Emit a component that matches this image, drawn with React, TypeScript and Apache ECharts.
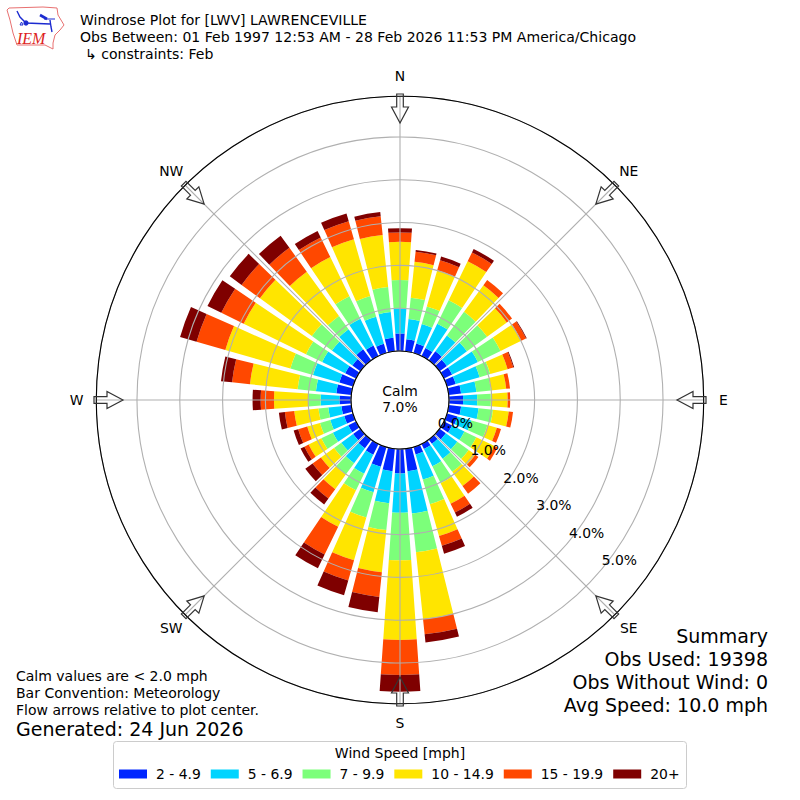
import React, { useEffect, useRef } from "react";
import * as echarts from "echarts";

const directions = Array.from({ length: 36 }, (_, i) => String(i * 10));
const compassLabels = ["N", "NE", "E", "SE", "S", "SW", "W", "NW"];
const speedBins = ["2 - 4.9", "5 - 6.9", "7 - 9.9", "10 - 14.9", "15 - 19.9", "20+"];
const binColors = ["#0026ff", "#00d4ff", "#7cff7a", "#ffe500", "#ff4800", "#7f0000"];

const bin1 = [.41,.28,.23,.21,.26,.21,.21,.21,.29,.33,.29,.25,.21,.18,.12,.13,.18,.53,.57,.53,.48,.28,.25,.21,.2,.21,.23,.27,.35,.33,.28,.23,.32,.27,.22,.32];
const bin2 = [.59,.48,.47,.63,.46,.58,.67,.58,.36,.33,.41,.34,.32,.33,.43,.45,.61,.99,.92,.75,.62,.49,.43,.34,.4,.34,.31,.44,.48,.64,.6,.59,.58,.7,.66,.6];
const bin3 = [.66,.5,.43,.61,.68,.58,.59,.26,.34,.32,.34,.39,.31,.33,.38,.44,.6,.91,1.11,.63,.61,.43,.33,.21,.3,.25,.23,.29,.43,.55,.42,.58,.38,.58,.5,.59];
const bin4 = [.89,.84,.88,1.01,.77,.57,.54,.42,.36,.39,.37,.23,.47,.19,.41,.53,.77,1.57,1.86,.99,1.04,.95,.42,.38,.33,.31,.57,.8,1.12,1.58,1.62,1.5,1.28,1.02,1.38,1.22];
const bin5 = [.22,.24,.24,.23,.15,.15,.12,.14,.09,.06,.1,.1,.08,.09,.22,.23,.24,.36,.82,.58,.49,.72,.27,.24,.11,.22,.22,.31,.42,.7,.58,.53,.69,.51,.44,.44];
const bin6 = [.1,.04,.09,.09,0,0,.02,.02,0,0,0,0,0,0,0,.11,.19,.19,.39,.36,.36,.36,.17,.21,.1,.11,.14,.19,.26,.4,.36,.34,.35,.17,.19,.1];
const binValues = [bin1, bin2, bin3, bin4, bin5, bin6];

const rMax = 5.95;
const arrowAngles = [0, 45, 90, 135, 180, 225, 270, 315];
const FONT = "DejaVu Sans";

function txt(x: number, y: number, text: string, fontSize: number, textAlign = "left", extra: any = {}) {
  return {
    type: "text", x, y, z: 50,
    style: { text, fontSize, fontFamily: FONT, fill: "#000", textAlign, textVerticalAlign: "middle", ...extra },
  };
}

function buildOption() {
  const arrows = arrowAngles.map((a) => ({
    type: "polygon", x: 400, y: 400, rotation: (-a * Math.PI) / 180, z: 60, silent: true,
    shape: { points: [[0, -277], [8.5, -293], [3.3, -293], [3.3, -306], [-3.3, -306], [-3.3, -293], [-8.5, -293]] },
    style: { fill: "rgba(255,255,255,0)", stroke: "#333", lineWidth: 1.2 },
  }));
  const compass = compassLabels.map((label, i) => {
    const a = (i * 45 * Math.PI) / 180;
    return txt(400 + 323.5 * Math.sin(a), 399.5 - 323.5 * Math.cos(a), label, 13.9, "center");
  });
  const logoBlue = "#1c2bd0";
  const logo = [
    { type: "polygon", z: 40, shape: { points: [[7,10],[9,8],[43,7],[57,8],[58,15],[64,25],[60,30],[55,35],[53,43],[53,49],[45,45],[17,45],[13,33],[10,20]] }, style: { fill: "none", stroke: "#e87070", lineWidth: 1 } },
    { type: "polyline", z: 41, shape: { points: [[17,11],[20,17],[26,23],[50,24]] }, style: { fill: "none", stroke: logoBlue, lineWidth: 1.4 } },
    { type: "circle", z: 41, shape: { cx: 26, cy: 23, r: 2.6 }, style: { fill: logoBlue } },
    { type: "line", z: 41, shape: { x1: 40, y1: 15, x2: 47, y2: 19 }, style: { stroke: logoBlue, lineWidth: 2.6 } },
    { type: "line", z: 41, shape: { x1: 44, y1: 19, x2: 55, y2: 19 }, style: { stroke: logoBlue, lineWidth: 1 } },
    { type: "polyline", z: 41, shape: { points: [[50,20],[51,27],[52,32]] }, style: { fill: "none", stroke: logoBlue, lineWidth: 1.4 } },
    { type: "polygon", z: 41, shape: { points: [[20,25],[23,25],[21.5,22]] }, style: { fill: "none", stroke: logoBlue, lineWidth: 1 } },
    { type: "text", z: 42, x: 17, y: 38, style: { text: "IEM", fontFamily: "Liberation Serif", fontStyle: "italic", fontSize: 16, fill: "#d22", textVerticalAlign: "middle" } },
  ];
  const graphicElements: any[] = [
    ...logo,
    txt(80, 20, "Windrose Plot for [LWV] LAWRENCEVILLE", 14.05),
    txt(80, 37, "Obs Between: 01 Feb 1997 12:53 AM - 28 Feb 2026 11:53 PM America/Chicago", 14.05),
    txt(85, 54, "↳ constraints: Feb", 14.05),
    txt(400, 391, "Calm", 13.9, "center"),
    txt(400, 407, "7.0%", 13.9, "center"),
    txt(16, 676, "Calm values are < 2.0 mph", 14),
    txt(16, 693, "Bar Convention: Meteorology", 14),
    txt(16, 710, "Flow arrows relative to plot center.", 14),
    txt(16, 729, "Generated: 24 Jun 2026", 19),
    txt(768, 636, "Summary", 19, "right"),
    txt(768, 659, "Obs Used: 19398", 19, "right"),
    txt(768, 682, "Obs Without Wind: 0", 19, "right"),
    txt(768, 705, "Avg Speed: 10.0 mph", 19, "right"),
    txt(400, 753, "Wind Speed [mph]", 14, "center"),
    { type: "rect", z: 1, shape: { x: 113.5, y: 741.5, width: 573, height: 47, r: 3 }, style: { fill: "#fff", stroke: "#ccc", lineWidth: 1 } },
    ...compass,
    ...arrows,
  ];

  return {
    animation: false,
    backgroundColor: "#fff",
    polar: [
      { center: [400, 400], radius: [49, 303.7] },
      { center: [400, 400], radius: [49, 303.7] },
      { center: [400, 400], radius: [57, 311.7] },
    ],
    angleAxis: [
      { polarIndex: 0, type: "category", data: directions, startAngle: 95, clockwise: true, show: false },
      {
        polarIndex: 1, type: "value", min: 0, max: 360, interval: 45, startAngle: 90, clockwise: true, z: 5,
        axisLine: { show: true, lineStyle: { color: "#000", width: 1.1 } },
        axisTick: { show: false },
        axisLabel: { show: false },
        splitLine: { show: true, lineStyle: { color: "#b0b0b0", width: 1.1 } },
      },
      { polarIndex: 2, type: "value", min: 0, max: 360, startAngle: -40, clockwise: true, show: false },
    ],
    radiusAxis: [
      { polarIndex: 0, type: "value", min: 0, max: rMax, show: false },
      {
        polarIndex: 1, type: "value", min: 0, max: rMax, interval: 1, z: 5,
        axisLine: { show: false }, axisTick: { show: false }, axisLabel: { show: false },
        splitLine: { show: true, lineStyle: { color: "#b0b0b0", width: 1.1 } },
      },
      {
        polarIndex: 2, type: "value", min: 0, max: rMax, interval: 1, z: 6,
        axisLine: { show: false }, axisTick: { show: false }, splitLine: { show: false },
        axisLabel: {
          show: true, margin: 18.25, fontSize: 13.9, fontFamily: FONT, color: "#000", showMaxLabel: false, rotate: 0, hideOverlap: false,
          align: "center", verticalAlign: "middle",
          formatter: (v: number) => `${v.toFixed(1)}%`,
        },
      },
    ],
    legend: {
      left: 119, top: 767, orient: "horizontal", icon: "rect", itemWidth: 28, itemHeight: 9, itemGap: 10, padding: 0, z: 20, selectedMode: false,
      data: speedBins,
      textStyle: { fontFamily: FONT, fontSize: 13.9, color: "#000", padding: [0, 0, 0, 4] },
    },
    graphic: { elements: graphicElements },
    series: speedBins.map((name, i) => ({
      name, type: "bar", coordinateSystem: "polar", polarIndex: 0, stack: "wind", barWidth: "80%", z: 2,
      itemStyle: { color: binColors[i] },
      data: binValues[i],
    })),
  };
}

export default function App() {
  const ref = useRef<HTMLDivElement>(null);
  useEffect(() => {
    const chart = echarts.init(ref.current!, undefined, { renderer: "svg" });
    chart.setOption(buildOption() as any);
    return () => chart.dispose();
  }, []);
  return <div ref={ref} style={{ position: "absolute", left: 0, top: 0, width: 800, height: 800 }} />;
}
